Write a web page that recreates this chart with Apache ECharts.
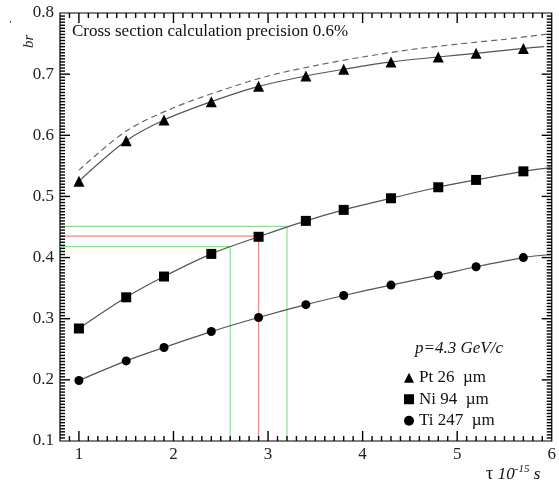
<!DOCTYPE html>
<html><head><meta charset="utf-8">
<script src="https://cdn.jsdelivr.net/npm/echarts@6/dist/echarts.min.js"></script>
<style>html,body{margin:0;padding:0;background:#fff}#c{width:559px;height:487px}</style>
</head><body><div id="c"></div>
<script>
// ---- data ----
const tau = [1, 1.5, 1.9, 2.4, 2.9, 3.4, 3.8, 4.3, 4.8, 5.2, 5.7];
const pt  = [0.525, 0.591, 0.625, 0.655, 0.680, 0.697, 0.708, 0.720, 0.728, 0.734, 0.742];
const ni  = [0.284, 0.335, 0.369, 0.406, 0.434, 0.460, 0.478, 0.497, 0.515, 0.527, 0.541];
const ti  = [0.199, 0.231, 0.253, 0.279, 0.302, 0.323, 0.338, 0.355, 0.371, 0.385, 0.400];
const ptEnd = [5.92, 0.745];
const niEnd = [6.0, 0.547];
const tiEnd = [6.0, 0.405];
const tauDash = [1, 1.5, 2, 2.5, 3, 3.5, 4, 4.5, 5, 5.5, 5.97];
const ptDash  = [0.543, 0.607, 0.645, 0.673, 0.697, 0.714, 0.728, 0.740, 0.749, 0.757, 0.766];
const redRef    = [[0.8, 0.435], [2.9, 0.435], [2.9, 0.1]];
const greenHigh = [[0.8, 0.451], [3.2, 0.451], [3.2, 0.1]];
const greenLow  = [[0.8, 0.418], [2.6, 0.418], [2.6, 0.1]];
const xTicks = [1, 2, 3, 4, 5, 6];
const yTicks = [0.1, 0.2, 0.3, 0.4, 0.5, 0.6, 0.7, 0.8];
const names = ['Pt 26  \u00b5m', 'Ni 94  \u00b5m', 'Ti 247  \u00b5m'];
const titleText = 'Cross section calculation precision 0.6%';
const headerText = 'p=4.3 GeV/c';

const SERIF = '"Liberation Serif", "DejaVu Serif", serif';
const XMIN = 0.8, XMAX = 6, YMIN = 0.1, YMAX = 0.8;

function pairs(xs, ys) { return xs.map((x, i) => [x, ys[i]]); }

// tick positions (every 0.1 on x, every 0.005 on y; long ticks at the labelled values)
const xTickData = []; for (let i = 9; i < 60; i++) xTickData.push([i / 10, YMIN, i % 10 === 0 ? 10 : 5]);
const yTickData = []; for (let i = 21; i < 160; i++) yTickData.push([XMIN, i / 200, i % 20 === 0 ? 10 : 5]);

function tickLine(x1, y1, x2, y2) {
  return { type: 'line', shape: { x1, y1, x2, y2 }, style: { stroke: '#000', lineWidth: 1.4 } };
}
function renderXTick(params, api) {
  const cs = params.coordSys;
  const p = api.coord([api.value(0), api.value(1)]);
  const x = p[0], len = api.value(2);
  const yb = cs.y + cs.height, yt = cs.y;
  return { type: 'group', children: [tickLine(x, yb, x, yb - len), tickLine(x, yt, x, yt + len)] };
}
function renderYTick(params, api) {
  const cs = params.coordSys;
  const p = api.coord([api.value(0), api.value(1)]);
  const y = p[1], len = api.value(2);
  const xl = cs.x, xr = cs.x + cs.width;
  return { type: 'group', children: [tickLine(xl, y, xl + len, y), tickLine(xr, y, xr - len, y)] };
}

const lineGray = '#555';
const chart = echarts.init(document.getElementById('c'));
chart.setOption({
  animation: false,
  grid: { left: 60, right: 6, top: 13, bottom: 46, containLabel: false, show: true, borderColor: '#000', borderWidth: 1.2, backgroundColor: 'transparent' },
  xAxis: {
    type: 'value', min: XMIN, max: XMAX, splitNumber: 5,
    axisLine: { show: false }, axisTick: { show: false }, splitLine: { show: false },
    axisLabel: { customValues: xTicks, fontFamily: SERIF, fontSize: 17, color: '#222', margin: 5 }
  },
  yAxis: {
    type: 'value', min: YMIN, max: YMAX, interval: 0.1,
    axisLine: { show: false }, axisTick: { show: false }, splitLine: { show: false },
    axisLabel: { formatter: v => v.toFixed(1), fontFamily: SERIF, fontSize: 17, color: '#222', margin: 6 }
  },
  legend: {
    left: 399, top: 362, orient: 'vertical', itemGap: 0, itemWidth: 10, itemHeight: 10,
    textStyle: { fontFamily: SERIF, fontSize: 17, color: '#111', lineHeight: 21.5 },
    data: [
      { name: names[0], icon: 'triangle' },
      { name: names[1], icon: 'rect' },
      { name: names[2], icon: 'circle' }
    ]
  },
  graphic: [
    { type: 'text', left: 72, top: 23, style: { text: titleText, font: '17px ' + SERIF, fill: '#111' } },
    { type: 'text', left: 415, top: 340, style: { text: headerText, font: 'italic 17px ' + SERIF, fill: '#111' } },
    { type: 'text', left: 486, top: 464, style: {
        rich: {
          a: { font: '18px ' + SERIF, fill: '#111' },
          b: { font: 'italic 17px ' + SERIF, fill: '#111' },
          c: { font: 'italic 11px ' + SERIF, fill: '#111', verticalAlign: 'top', padding: [0, 0, 10, 0] }
        },
        text: '{a|\u03c4 }{b|10}{c|-15}{b| s}'
    } },
    { type: 'text', x: 22, y: 48, rotation: Math.PI / 2, style: { text: 'br', font: 'italic 15px ' + SERIF, fill: '#222' } },
    { type: 'text', x: 8, y: 20, style: { text: '\u02c8', font: '14px ' + SERIF, fill: '#222' } }
  ],
  series: [
    { type: 'custom', name: 'xticks', data: xTickData, renderItem: renderXTick, silent: true, z: 10, clip: false },
    { type: 'custom', name: 'yticks', data: yTickData, renderItem: renderYTick, silent: true, z: 10, clip: false },
    { type: 'line', name: 'redRef', data: redRef, symbol: 'none', silent: true, lineStyle: { color: '#e58a8a', width: 1.2 }, z: 1 },
    { type: 'line', name: 'greenHigh', data: greenHigh, symbol: 'none', silent: true, lineStyle: { color: '#8fe08f', width: 1.2 }, z: 1 },
    { type: 'line', name: 'greenLow', data: greenLow, symbol: 'none', silent: true, lineStyle: { color: '#8fe08f', width: 1.2 }, z: 1 },
    { type: 'line', name: 'dash', data: pairs(tauDash, ptDash), symbol: 'none', smooth: 0.3, lineStyle: { color: '#666', width: 1.2, type: [6, 4] }, z: 2 },
    { type: 'line', name: names[0], data: pairs(tau, pt).concat([{ value: ptEnd, symbol: 'none' }]), smooth: 0.3,
      symbol: 'triangle', symbolSize: 11, itemStyle: { color: '#000' }, lineStyle: { color: lineGray, width: 1.2 }, z: 3 },
    { type: 'line', name: names[1], data: pairs(tau, ni).concat([{ value: niEnd, symbol: 'none' }]), smooth: 0.3,
      symbol: 'rect', symbolSize: 10, itemStyle: { color: '#000' }, lineStyle: { color: lineGray, width: 1.2 }, z: 3 },
    { type: 'line', name: names[2], data: pairs(tau, ti).concat([{ value: tiEnd, symbol: 'none' }]), smooth: 0.3,
      symbol: 'circle', symbolSize: 9, itemStyle: { color: '#000' }, lineStyle: { color: lineGray, width: 1.2 }, z: 3 }
  ]
});
</script></body></html>
